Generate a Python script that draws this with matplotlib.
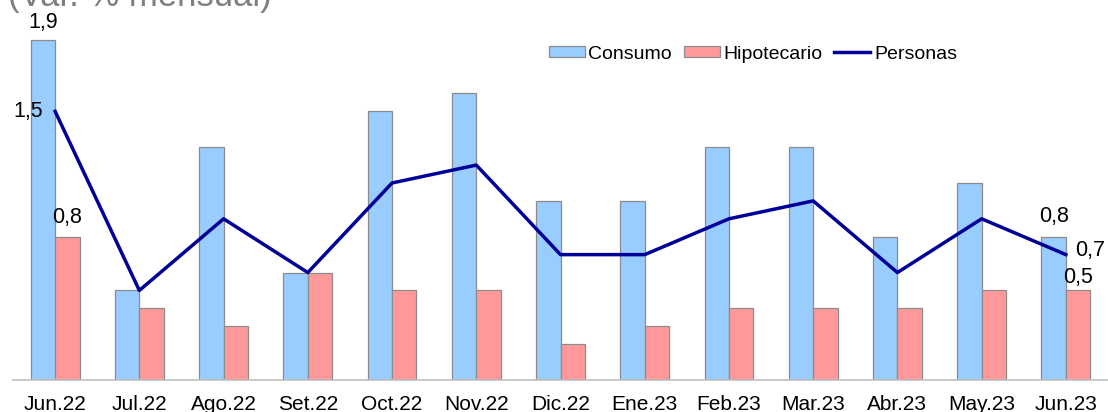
import numpy as np
import matplotlib.pyplot as plt

plt.rcParams['font.family'] = ['Liberation Sans', 'DejaVu Sans']

# DATA
meses = ['Jun.22', 'Jul.22', 'Ago.22', 'Set.22', 'Oct.22', 'Nov.22', 'Dic.22',
         'Ene.23', 'Feb.23', 'Mar.23', 'Abr.23', 'May.23', 'Jun.23']
consumo = [1.9, 0.5, 1.3, 0.6, 1.5, 1.6, 1.0, 1.0, 1.3, 1.3, 0.8, 1.1, 0.8]
hipotecario = [0.8, 0.4, 0.3, 0.6, 0.5, 0.5, 0.2, 0.3, 0.4, 0.4, 0.4, 0.5, 0.5]
personas = [1.5, 0.5, 0.9, 0.6, 1.1, 1.2, 0.7, 0.7, 0.9, 1.0, 0.6, 0.9, 0.7]

def fmt(v):
    return f'{v:.1f}'.replace('.', ',')

fig = plt.figure(figsize=(11.08, 4.12), dpi=100)
ax = fig.add_axes([13 / 1108, 32 / 412, 1095 / 1108, 360 / 412])

x = np.arange(len(meses))
w = 0.29
b1 = ax.bar(x - w / 2, consumo, width=w, color='#99CCFF', edgecolor='#8C8C8C',
            linewidth=0.9, label='Consumo')
b2 = ax.bar(x + w / 2, hipotecario, width=w, color='#FF9999', edgecolor='#8C8C8C',
            linewidth=0.9, label='Hipotecario')
l1, = ax.plot(x, personas, color='#000099', linewidth=2.5, label='Personas')

ax.set_xlim(-0.5, 12.5)
ax.set_ylim(0, 2.01)
ax.set_xticks(x)
ax.set_xticklabels(meses, fontsize=15)
ax.tick_params(axis='x', length=0, pad=11)
ax.set_yticks([])
for s in ['top', 'right', 'left']:
    ax.spines[s].set_visible(False)
ax.spines['bottom'].set_color('#BFBFBF')
ax.spines['bottom'].set_linewidth(1.2)

# etiquetas de datos (primer y ultimo mes)
fs = 15.5
ax.annotate(fmt(consumo[0]), (x[0] - w / 2, consumo[0]), xytext=(0, 5),
            textcoords='offset points', ha='center', va='bottom', fontsize=fs)
ax.annotate(fmt(hipotecario[0]), (x[0] + w / 2, hipotecario[0]), xytext=(0, 6),
            textcoords='offset points', ha='center', va='bottom', fontsize=fs)
ax.annotate(fmt(personas[0]), (x[0], personas[0]), xytext=(-9, 0),
            textcoords='offset points', ha='right', va='center', fontsize=fs)
ax.annotate(fmt(consumo[-1]), (x[-1] - w / 2, consumo[-1]), xytext=(0, 7),
            textcoords='offset points', ha='center', va='bottom', fontsize=fs)
ax.annotate(fmt(hipotecario[-1]), (x[-1] + w / 2, hipotecario[-1]), xytext=(0, 2),
            textcoords='offset points', ha='center', va='bottom', fontsize=fs)
ax.annotate(fmt(personas[-1]), (x[-1], personas[-1]), xytext=(7, 3),
            textcoords='offset points', ha='left', va='center', fontsize=fs)

ax.legend([b1, b2, l1], ['Consumo', 'Hipotecario', 'Personas'],
          loc='center left', bbox_to_anchor=(522 / 1095, 1 - 34 / 360), ncol=3,
          frameon=False, fontsize=14, handlelength=1.85, handletextpad=0.2,
          columnspacing=0.6, handleheight=0.55, borderpad=0.2)

fig.text(8 / 1108, 1 - 6 / 412, '(Var. % mensual)', fontsize=25, color='#7F7F7F',
         ha='left', va='baseline')

fig.savefig('out.png', dpi=100)
